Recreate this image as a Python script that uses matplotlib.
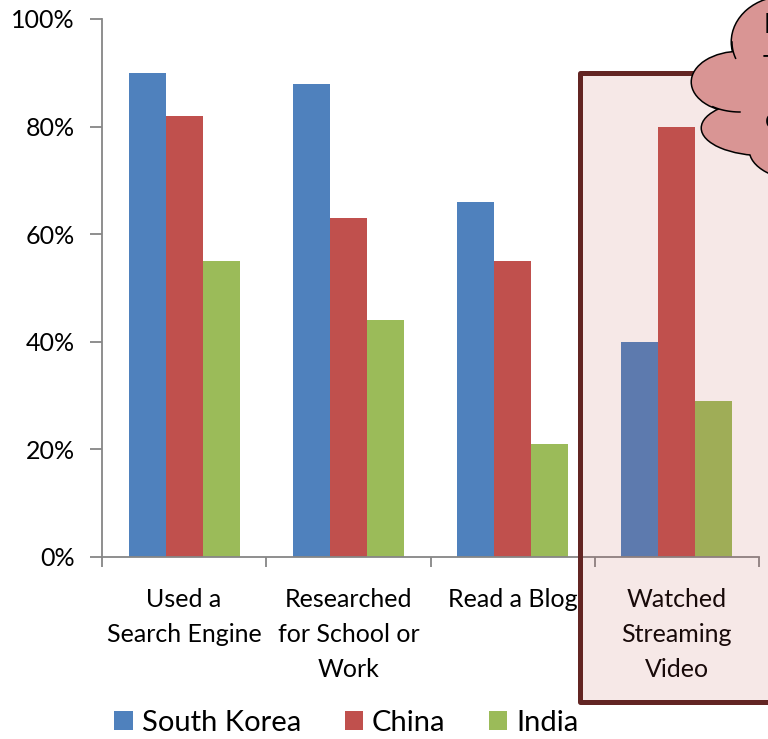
import numpy as np
import matplotlib.pyplot as plt
from matplotlib.patches import Rectangle, Ellipse
from matplotlib.ticker import PercentFormatter

categories = ["Used a\nSearch Engine", "Researched\nfor School or\nWork",
              "Read a Blog", "Watched\nStreaming\nVideo"]
south_korea = [90, 88, 66, 40]
china = [82, 63, 55, 80]
india = [55, 44, 21, 29]

plt.rcParams['font.family'] = ['Lato', 'DejaVu Sans']

fig = plt.figure(figsize=(7.68, 7.39), dpi=100)
ax = fig.add_axes([0.1328, 0.2463, 0.8555, 0.7280])

x = np.arange(len(categories))
w = 0.225
ax.bar(x - w, south_korea, w, color='#4F81BD', label='South Korea')
ax.bar(x, china, w, color='#C0504D', label='China')
ax.bar(x + w, india, w, color='#9BBB59', label='India')

ax.set_xlim(-0.5, 3.5)
ax.set_ylim(0, 100)
ax.set_yticks(range(0, 101, 20))
ax.yaxis.set_major_formatter(PercentFormatter(decimals=0))
for s in ['top', 'right']:
    ax.spines[s].set_visible(False)
for s in ['left', 'bottom']:
    ax.spines[s].set_color('#868686')
    ax.spines[s].set_linewidth(1.3)
ax.tick_params(axis='y', length=8.6, width=1.3, color='#868686', pad=11, labelsize=18)

ax.set_xticks(x, categories)
ax.tick_params(axis='x', which='major', length=0, pad=22, labelsize=18)
for lab in ax.get_xticklabels():
    lab.set_linespacing(1.65)
ax.set_xticks(np.arange(-0.5, 4, 1), minor=True)
ax.tick_params(axis='x', which='minor', length=7, width=1.3, color='#868686')

fig.legend(loc='center', bbox_to_anchor=(0.451, 0.0217), ncol=3, frameon=False,
           fontsize=21, handlelength=0.63, handleheight=0.63,
           handletextpad=0.3, columnspacing=1.5)

# overlay in pixel units for the highlight box and the callout cloud
ov = fig.add_axes([0, 0, 1, 1])
ov.set_xlim(0, 768)
ov.set_ylim(739, 0)
ov.axis('off')

ov.add_patch(Rectangle((579.5, 72.5), 400, 629.5, facecolor=(0.753, 0.314, 0.302, 0.13),
                       edgecolor='#632523', lw=3.6, joinstyle='round'))

lobes = [((785, 42), 106, 90), ((740, 82), 96, 60), ((765, 128), 126, 54),
         ((805, 150), 110, 60), ((800, 95), 100, 140)]
for c, ew, eh in lobes:
    ov.add_patch(Ellipse(c, ew, eh, facecolor='none', edgecolor='black', lw=2.2))
for c, ew, eh in lobes:
    ov.add_patch(Ellipse(c, ew, eh, facecolor='#D99594', edgecolor='none'))

t = np.linspace(0, 0.37, 20)
ov.plot(785 - 53 * np.cos(t), 42 + 45 * np.sin(t), color='black', lw=1.1)
t = np.linspace(0.97, 1.57, 20)
ov.plot(740 - 48 * np.cos(t), 82 + 30 * np.sin(t), color='black', lw=1.1)

# callout text runs past the right edge of the figure
ov.text(764, 33, "Is", fontsize=19, va='baseline', ha='left')
ov.text(763, 75, "This", fontsize=19, va='baseline', ha='left')
ov.text(765, 128, "cool?", fontsize=19, va='baseline', ha='left')

fig.savefig('out.png', dpi=100)
